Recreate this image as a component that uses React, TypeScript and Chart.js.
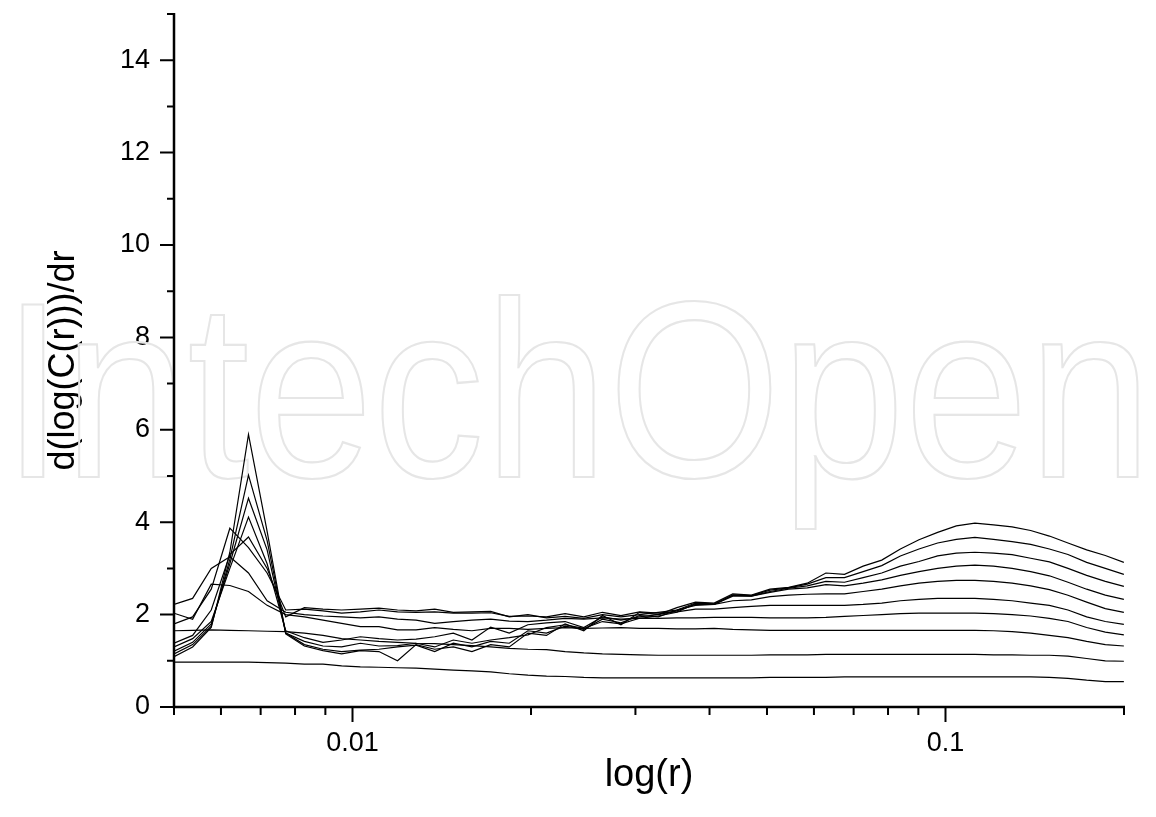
import React, { useEffect, useRef } from 'react';
import { Chart, registerables } from 'chart.js';

Chart.register(...registerables);

// r values (log-spaced sample positions)
const R_VALUES = [
  0.005, 0.005375, 0.005778, 0.006211, 0.006677, 0.007178, 0.007716, 0.008295, 0.008917, 0.009586,
  0.01031, 0.01108, 0.01191, 0.0128, 0.01376, 0.01479, 0.0159, 0.0171, 0.01838, 0.01976,
  0.02124, 0.02283, 0.02455, 0.02639, 0.02836, 0.03049, 0.03278, 0.03524, 0.03788, 0.04072,
  0.04378, 0.04706, 0.05059, 0.05438, 0.05846, 0.06285, 0.06756, 0.07263, 0.07807, 0.08393,
  0.09022, 0.09699, 0.1043, 0.1121, 0.1205, 0.1295, 0.1392, 0.1497, 0.1609, 0.173,
  0.186, 0.1999,
];

const SLOPE_M1 = [
  0.97, 0.97, 0.97, 0.97, 0.97, 0.96, 0.95, 0.93, 0.93, 0.89,
  0.87, 0.86, 0.85, 0.84, 0.82, 0.8, 0.78, 0.76, 0.72, 0.69,
  0.67, 0.66, 0.64, 0.63, 0.63, 0.63, 0.63, 0.63, 0.63, 0.63,
  0.63, 0.63, 0.64, 0.64, 0.64, 0.64, 0.65, 0.65, 0.65, 0.65,
  0.65, 0.65, 0.65, 0.65, 0.65, 0.65, 0.65, 0.64, 0.62, 0.58,
  0.55, 0.55,
];
const SLOPE_M2 = [
  1.65, 1.66, 1.67, 1.66, 1.65, 1.64, 1.63, 1.6, 1.55, 1.48,
  1.45, 1.42, 1.4, 1.38, 1.37, 1.35, 1.33, 1.3, 1.27, 1.25,
  1.24, 1.2, 1.17, 1.15, 1.14, 1.13, 1.12, 1.12, 1.12, 1.12,
  1.12, 1.12, 1.13, 1.13, 1.13, 1.14, 1.14, 1.14, 1.14, 1.14,
  1.14, 1.14, 1.14, 1.14, 1.13, 1.13, 1.12, 1.12, 1.1, 1.05,
  1.0, 0.99,
];
const SLOPE_M3 = [
  2.03, 1.9, 2.66, 2.63, 2.5, 2.2, 2.0, 1.95, 1.88, 1.81,
  1.74, 1.74, 1.67, 1.67, 1.72, 1.68, 1.65, 1.7, 1.7, 1.68,
  1.7, 1.72, 1.7, 1.71, 1.72, 1.7, 1.7, 1.69, 1.69, 1.7,
  1.68, 1.67, 1.66, 1.66, 1.66, 1.66, 1.66, 1.66, 1.66, 1.66,
  1.66, 1.66, 1.66, 1.66, 1.65, 1.63, 1.6, 1.55, 1.5, 1.42,
  1.35, 1.32,
];
const SLOPE_M4 = [
  2.22, 2.35, 3.0, 3.25, 2.9, 2.3, 2.05, 2.0, 1.97, 1.95,
  1.93, 1.95, 1.9, 1.88, 1.81, 1.85, 1.88, 1.9, 1.86, 1.85,
  1.88, 1.92, 1.9, 1.93, 1.9, 1.92, 1.92, 1.93, 1.93, 1.94,
  1.94, 1.94, 1.93, 1.93, 1.93, 1.94, 1.96, 1.98, 2.0, 2.02,
  2.03, 2.03, 2.03, 2.03, 2.02, 2.0, 1.97, 1.92, 1.85, 1.72,
  1.62, 1.56,
];
const SLOPE_M5 = [
  1.8, 1.95, 2.55, 3.87, 3.45, 2.9, 2.1, 2.12, 2.08, 2.03,
  2.06, 2.1, 2.06, 2.05, 2.06, 2.03, 2.03, 2.04, 1.96, 1.97,
  1.95, 2.02, 1.95, 2.05, 1.98, 2.06, 2.03, 2.06, 2.12, 2.12,
  2.15, 2.18, 2.2, 2.2, 2.2, 2.2, 2.2, 2.22, 2.25, 2.3,
  2.33, 2.35, 2.35, 2.35, 2.33, 2.3, 2.25, 2.2, 2.1, 1.95,
  1.85, 1.79,
];
const SLOPE_M6 = [
  1.38, 1.55, 2.1, 3.3, 3.68, 3.0, 1.95, 2.15, 2.12, 2.1,
  2.12, 2.14, 2.1, 2.08, 2.12, 2.05, 2.06, 2.07, 1.95, 2.0,
  1.93, 1.96, 1.92, 2.0, 1.95, 2.0, 2.05, 2.1, 2.2, 2.22,
  2.3, 2.32, 2.39, 2.42, 2.44, 2.45, 2.45, 2.5, 2.55, 2.62,
  2.68, 2.72, 2.74, 2.74, 2.72, 2.68, 2.62, 2.54, 2.42, 2.27,
  2.13, 2.05,
];
const SLOPE_M7 = [
  1.3, 1.48, 1.85, 3.0, 4.11, 3.1, 1.65, 1.5, 1.4, 1.45,
  1.52, 1.48, 1.45, 1.47, 1.52, 1.6, 1.45, 1.73, 1.6, 1.78,
  1.82, 1.85, 1.72, 1.95, 1.88, 1.95, 2.0, 2.08, 2.22, 2.22,
  2.4, 2.4, 2.48, 2.55, 2.58, 2.65, 2.62, 2.68, 2.75, 2.85,
  2.93, 3.0, 3.05, 3.07, 3.05, 3.0, 2.93, 2.84, 2.7, 2.55,
  2.42, 2.33,
];
const SLOPE_M8 = [
  1.21, 1.4, 1.8, 3.1, 4.52, 3.4, 1.6, 1.42, 1.32, 1.3,
  1.38, 1.32, 1.33, 1.38, 1.3, 1.45, 1.38, 1.45, 1.5, 1.56,
  1.72, 1.78, 1.7, 1.85, 1.8, 1.92, 1.97, 2.05, 2.24, 2.22,
  2.42, 2.4, 2.5, 2.57, 2.62, 2.72, 2.7, 2.8, 2.9, 3.05,
  3.15, 3.27, 3.33, 3.35, 3.33, 3.3, 3.22, 3.14, 3.0, 2.85,
  2.72, 2.61,
];
const SLOPE_M9 = [
  1.15, 1.35, 1.75, 3.2, 5.02, 3.6, 1.6, 1.35, 1.25, 1.2,
  1.23, 1.25, 1.3, 1.34, 1.2, 1.38, 1.3, 1.42, 1.38, 1.65,
  1.6, 1.75, 1.68, 1.9, 1.82, 1.98, 1.95, 2.1, 2.25, 2.23,
  2.43, 2.41, 2.53, 2.58, 2.66, 2.8, 2.8, 2.93, 3.06, 3.27,
  3.42, 3.55, 3.63, 3.67, 3.63, 3.58, 3.52, 3.42, 3.3, 3.13,
  3.0, 2.87,
];
const SLOPE_M10 = [
  1.09, 1.3, 1.72, 3.35, 5.9, 3.8, 1.58, 1.32, 1.22, 1.15,
  1.22, 1.2, 1.0, 1.35, 1.25, 1.3, 1.2, 1.35, 1.3, 1.6,
  1.55, 1.8, 1.65, 1.98, 1.78, 2.05, 2.0, 2.15, 2.27, 2.25,
  2.45, 2.42, 2.55, 2.59, 2.68, 2.9, 2.87, 3.05, 3.18, 3.42,
  3.62, 3.78, 3.92, 3.98, 3.94, 3.9, 3.82, 3.7, 3.55, 3.4,
  3.28, 3.13,
];

const SERIES = [
  SLOPE_M1, SLOPE_M2, SLOPE_M3, SLOPE_M4, SLOPE_M5,
  SLOPE_M6, SLOPE_M7, SLOPE_M8, SLOPE_M9, SLOPE_M10,
];

const X_MIN = 0.005;
const X_MAX = 0.2;
const Y_MIN = 0;
const Y_MAX = 15;
const X_TICKS = [
  0.005, 0.006, 0.007, 0.008, 0.009, 0.01,
  0.02, 0.03, 0.04, 0.05, 0.06, 0.07, 0.08, 0.09, 0.1, 0.2,
];
const X_MAJOR_TICKS = [0.01, 0.1];
const X_MAJOR_LABELS = ['0.01', '0.1'];
const Y_TICKS = [0, 1, 2, 3, 4, 5, 6, 7, 8, 9, 10, 11, 12, 13, 14, 15];
const Y_MAJOR_TICKS = [0, 2, 4, 6, 8, 10, 12, 14];

const X_TITLE = 'log(r)';
const Y_TITLE = 'd(log(C(r)))/dr';
const WATERMARK = 'IntechOpen';

const FONT = '"Liberation Sans", Arial, Helvetica, sans-serif';

const near = (a: number, b: number) => Math.abs(a - b) < 1e-9;

const watermarkPlugin = {
  id: 'watermark',
  beforeDatasetsDraw(chart: any) {
    const { ctx } = chart;
    ctx.save();
    ctx.font = `250px ${FONT}`;
    const w = ctx.measureText(WATERMARK).width;
    const targetW = 1150;
    ctx.translate(2, 477);
    ctx.scale(targetW / w, 1);
    ctx.strokeStyle = '#e6e6e6';
    ctx.lineWidth = 2.2;
    ctx.textBaseline = 'alphabetic';
    ctx.textAlign = 'left';
    ctx.strokeText(WATERMARK, 0, 0);
    ctx.restore();
  },
};

const axesPlugin = {
  id: 'customAxes',
  afterDraw(chart: any) {
    const { ctx } = chart;
    const xs = chart.scales.x;
    const ys = chart.scales.y;
    const x0 = xs.getPixelForValue(X_MIN);
    const x1 = xs.getPixelForValue(X_MAX);
    const y0 = ys.getPixelForValue(Y_MIN);
    const y1 = ys.getPixelForValue(Y_MAX);
    ctx.save();
    ctx.strokeStyle = '#000';
    ctx.lineCap = 'butt';
    ctx.lineWidth = 2.5;
    ctx.beginPath();
    ctx.moveTo(x0 - 1.25, y0);
    ctx.lineTo(x1 + 1, y0);
    ctx.moveTo(x0, y0 + 1.25);
    ctx.lineTo(x0, y1 - 1);
    ctx.stroke();
    ctx.lineWidth = 2;
    ctx.beginPath();
    X_TICKS.forEach((v) => {
      const px = xs.getPixelForValue(v);
      const len = X_MAJOR_TICKS.some((m) => near(m, v)) ? 15 : 8;
      ctx.moveTo(px, y0);
      ctx.lineTo(px, y0 + len);
    });
    Y_TICKS.forEach((v) => {
      const py = ys.getPixelForValue(v);
      const len = Y_MAJOR_TICKS.includes(v) ? 14 : 7;
      ctx.moveTo(x0, py);
      ctx.lineTo(x0 - len, py);
    });
    ctx.stroke();
    ctx.restore();
  },
};

export default function App() {
  const canvasRef = useRef<HTMLCanvasElement | null>(null);

  useEffect(() => {
    document.body.style.margin = '0';
    const canvas = canvasRef.current;
    if (!canvas) return;

    const datasets = SERIES.map((s, k) => ({
      label: `m=${k + 1}`,
      data: R_VALUES.map((r, i) => ({ x: r, y: s[i] })),
      showLine: true,
      borderColor: '#000',
      backgroundColor: '#000',
      borderWidth: 1.2,
      pointRadius: 0,
      pointHoverRadius: 0,
      tension: 0,
      fill: false,
    }));

    const chart = new Chart(canvas, {
      type: 'scatter',
      data: { datasets },
      plugins: [watermarkPlugin, axesPlugin],
      options: {
        responsive: false,
        animation: false,
        devicePixelRatio: 1,
        layout: { padding: { left: 0, right: 32, top: 14, bottom: 0 } },
        plugins: {
          legend: { display: false },
          tooltip: { enabled: false },
          title: { display: false },
        },
        scales: {
          x: {
            type: 'logarithmic',
            position: 'bottom',
            min: X_MIN,
            max: X_MAX,
            grid: { display: false, drawTicks: false },
            border: { display: false },
            afterBuildTicks: (scale: any) => {
              scale.ticks = X_TICKS.map((v) => ({ value: v }));
            },
            afterFit: (scale: any) => {
              scale.height = 110;
              scale.paddingLeft = 0;
              scale.paddingRight = 0;
            },
            ticks: {
              autoSkip: false,
              maxRotation: 0,
              minRotation: 0,
              padding: 20,
              color: '#000',
              font: { family: FONT, size: 27 },
              callback: (value: any) => {
                const idx = X_MAJOR_TICKS.findIndex((m) => near(m, Number(value)));
                return idx >= 0 ? X_MAJOR_LABELS[idx] : '';
              },
            },
            title: {
              display: true,
              text: X_TITLE,
              color: '#000',
              font: { family: FONT, size: 38 },
              padding: { top: 0, bottom: 19 },
            },
          },
          y: {
            type: 'linear',
            position: 'left',
            min: Y_MIN,
            max: Y_MAX,
            grid: { display: false, drawTicks: false },
            border: { display: false },
            afterBuildTicks: (scale: any) => {
              scale.ticks = Y_TICKS.map((v) => ({ value: v }));
            },
            afterFit: (scale: any) => {
              scale.width = 174;
              scale.paddingTop = 0;
              scale.paddingBottom = 0;
            },
            ticks: {
              autoSkip: false,
              padding: 24,
              color: '#000',
              font: { family: FONT, size: 27 },
              callback: (value: any) =>
                Y_MAJOR_TICKS.includes(Number(value)) ? String(value) : '',
            },
            title: {
              display: true,
              text: Y_TITLE,
              color: '#000',
              font: { family: FONT, size: 36 },
              padding: { top: 42, bottom: 0 },
            },
          },
        },
      },
    });

    return () => {
      chart.destroy();
    };
  }, []);

  return (
    <div style={{ width: 1156, height: 817, background: '#fff' }}>
      <canvas ref={canvasRef} width={1156} height={817} />
    </div>
  );
}
